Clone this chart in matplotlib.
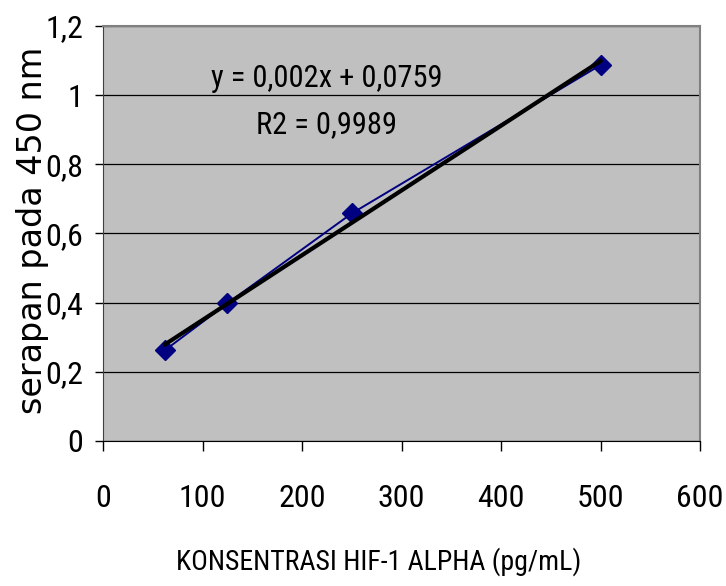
import numpy as np
import matplotlib.pyplot as plt

# Data
konsentrasi = [62.5, 125, 250, 500]
serapan = [0.263, 0.398, 0.658, 1.087]
x_ticks = [0, 100, 200, 300, 400, 500, 600]
y_ticks = [0, 0.2, 0.4, 0.6, 0.8, 1.0, 1.2]
y_tick_labels = ["0", "0,2", "0,4", "0,6", "0,8", "1", "1,2"]

narrow = ["Roboto Condensed", "Archivo Narrow", "DejaVu Sans"]

fig = plt.figure(figsize=(7.26, 5.86), dpi=100)
ax = fig.add_axes([103 / 726, 1 - 441 / 586, 597 / 726, 415 / 586])
ax.set_facecolor("#c0c0c0")

# linear trendline
slope, intercept = np.polyfit(konsentrasi, serapan, 1)
xs = np.array([konsentrasi[0], konsentrasi[-1]])
ax.plot(xs, slope * xs + intercept, color="black", lw=3.0, zorder=4)

ax.plot(konsentrasi, serapan, color="#000080", lw=1.4, marker="D",
        markersize=10, markerfacecolor="#000080", markeredgecolor="#000080", zorder=3)

ax.set_xlim(0, 600)
ax.set_ylim(0, 1.2)
ax.set_xticks(x_ticks)
ax.set_xticklabels([str(t) for t in x_ticks], fontfamily=narrow, fontsize=23)
ax.set_yticks(y_ticks)
ax.set_yticklabels(y_tick_labels, fontfamily=narrow, fontsize=23)
ax.tick_params(axis="x", direction="out", length=7, width=1, pad=24)
ax.tick_params(axis="y", direction="out", length=6, width=1, pad=8)
ax.grid(axis="y", color="black", lw=0.9)
ax.set_axisbelow(True)

for s in ["top", "right"]:
    ax.spines[s].set_color("#808080")
    ax.spines[s].set_linewidth(1.5)
ax.spines["left"].set_color("#404040")
ax.spines["bottom"].set_color("black")

ax.text(225, 1.047, "y = 0,002x + 0,0759", ha="center", va="center",
        fontfamily=narrow, fontsize=22)
ax.text(225, 0.914, "R2 = 0,9989", ha="center", va="center",
        fontfamily=narrow, fontsize=22)

ax.set_xlabel("KONSENTRASI HIF-1 ALPHA (pg/mL)", fontfamily=narrow, fontsize=20)
ax.xaxis.set_label_coords(0.462, -0.255)
ax.set_ylabel("serapan pada 450 nm", fontsize=24, fontfamily="DejaVu Sans")
ax.yaxis.set_label_coords(-0.09, 0.508)

fig.savefig("out.png", dpi=100)
